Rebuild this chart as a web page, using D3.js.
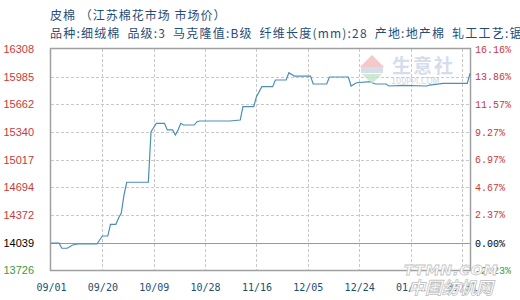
<!DOCTYPE html>
<html>
<head>
<meta charset="utf-8">
<script src="https://cdn.jsdelivr.net/npm/d3@7"></script>
<style>
  body { margin: 0; background: #fff; }
  svg { display: block; }
</style>
</head>
<body>
<svg id="chart" width="520" height="300"></svg>
<script>
const title = '皮棉 （江苏棉花市场 市场价）';
const subtitle = '品种:细绒棉 品级:3 马克隆值:B级 纤维长度(mm):28 产地:地产棉 轧工工艺:锯齿';

const dates = [
  '2009-09-01', '2009-09-04', '2009-09-05', '2009-09-07', '2009-09-09', '2009-09-11',
  '2009-09-18', '2009-09-20', '2009-09-22', '2009-09-23', '2009-09-25', '2009-09-26',
  '2009-09-27', '2009-09-28', '2009-09-29', '2009-10-07', '2009-10-08', '2009-10-10',
  '2009-10-13', '2009-10-14', '2009-10-16', '2009-10-17', '2009-10-18', '2009-10-19',
  '2009-10-20', '2009-10-24', '2009-10-25', '2009-10-26', '2009-11-06', '2009-11-10',
  '2009-11-11', '2009-11-15', '2009-11-16', '2009-11-18', '2009-11-22', '2009-11-23',
  '2009-11-27', '2009-11-28', '2009-11-30', '2009-12-06', '2009-12-07', '2009-12-12',
  '2009-12-13', '2009-12-20', '2009-12-21', '2009-12-23', '2009-12-28', '2009-12-30',
  '2010-01-03', '2010-01-04', '2010-01-09', '2010-01-18', '2010-01-19', '2010-01-24',
  '2010-02-02', '2010-02-03'
];
const prices = [
  14039, 14039, 13980, 13980, 14018, 14030,
  14030, 14123, 14123, 14260, 14260, 14334,
  14392, 14600, 14751, 14751, 15342, 15440,
  15440, 15362, 15362, 15303, 15362, 15440,
  15420, 15420, 15459, 15467, 15467, 15478,
  15634, 15634, 15751, 15868, 15868, 15946,
  15946, 16031, 15992, 15992, 15899, 15899,
  15981, 15981, 15876, 15914, 15926, 15899,
  15899, 15876, 15882, 15876, 15887, 15907,
  15907, 16024
];

const basePrice = 14039;
const priceTicks = [13726, 14039, 14372, 14694, 15017, 15340, 15662, 15985, 16308];
const pctTicks = ['-2.23%', '0.00%', '2.37%', '4.67%', '6.97%', '9.27%', '11.57%', '13.86%', '16.16%'];
const dateTicks = [
  '2009-09-01', '2009-09-20', '2009-10-09', '2009-10-28', '2009-11-16',
  '2009-12-05', '2009-12-24', '2010-01-12', '2010-01-31'
];
const dateStart = '2009-09-01';
const dateEnd = '2010-02-03';

const parse = d3.timeParse('%Y-%m-%d');
const L = 51, R = 470, T = 49, B = 270;
const svg = d3.select('#chart');

const x = d3.scaleTime().domain([parse(dateStart), parse(dateEnd)]).range([L, R]);
const y = d3.scaleLinear().domain([priceTicks[0], priceTicks[priceTicks.length - 1]]).range([B, T]);

const tickColor = (v) => (v > basePrice ? '#c83a3a' : v < basePrice ? '#3d9a3d' : '#000');

// ── header text ──────────────────────────────────────────────
svg.append('text')
  .attr('x', 50).attr('y', 20)
  .attr('font-family', '"Noto Sans CJK SC", sans-serif')
  .attr('font-size', '12px')
  .attr('letter-spacing', '1px')
  .attr('fill', '#1f4e79')
  .text(title);

svg.append('text')
  .attr('x', 50).attr('y', 38)
  .attr('font-family', '"Noto Sans CJK SC", sans-serif')
  .attr('font-size', '12px')
  .attr('letter-spacing', '1.2px')
  .attr('word-spacing', '3px')
  .attr('fill', '#1f4e79')
  .text(subtitle);

// ── grid ─────────────────────────────────────────────────────
const grid = svg.append('g');
priceTicks.slice(1, -1).forEach((v) => {
  grid.append('line')
    .attr('x1', L).attr('x2', R)
    .attr('y1', Math.round(y(v)) + 0.5).attr('y2', Math.round(y(v)) + 0.5)
    .attr('stroke', '#c8c8c8').attr('stroke-dasharray', '3,2');
});
dateTicks.slice(1).forEach((d) => {
  const px = Math.round(x(parse(d))) + 0.5;
  grid.append('line')
    .attr('x1', px).attr('x2', px)
    .attr('y1', T).attr('y2', B)
    .attr('stroke', '#c8c8c8').attr('stroke-dasharray', '3,2');
});

// base price line
svg.append('line')
  .attr('x1', L).attr('x2', R)
  .attr('y1', Math.round(y(basePrice)) + 0.5).attr('y2', Math.round(y(basePrice)) + 0.5)
  .attr('stroke', '#999');

// ── frame ────────────────────────────────────────────────────
svg.append('rect')
  .attr('x', L - 0.5).attr('y', T - 0.5)
  .attr('width', R - L + 1).attr('height', B - T + 1)
  .attr('fill', 'none').attr('stroke', '#a0a0a0').attr('stroke-width', 1.5);

// ── axes ─────────────────────────────────────────────────────
const left = svg.append('g')
  .attr('transform', `translate(${L},0)`)
  .call(d3.axisLeft(y).tickValues(priceTicks).tickSize(0).tickPadding(17).tickFormat(d3.format('d')));
left.select('.domain').remove();
left.selectAll('text')
  .attr('font-family', '"Liberation Sans", Arial, sans-serif')
  .attr('font-size', '11px')
  .attr('fill', (d) => tickColor(d));

const right = svg.append('g')
  .attr('transform', `translate(${R},0)`)
  .call(d3.axisRight(y).tickValues(priceTicks).tickSize(0).tickPadding(5)
    .tickFormat((d, i) => pctTicks[i]));
right.select('.domain').remove();
right.selectAll('text')
  .attr('font-family', '"Liberation Mono", monospace')
  .attr('font-size', '10px')
  .attr('fill', (d) => tickColor(d));

const bottom = svg.append('g')
  .attr('transform', `translate(0,${B})`)
  .call(d3.axisBottom(x).tickValues(dateTicks.map(parse)).tickSize(0).tickPadding(14)
    .tickFormat(d3.timeFormat('%m/%d')));
bottom.select('.domain').remove();
bottom.selectAll('text')
  .attr('font-family', '"DejaVu Sans Mono", monospace')
  .attr('font-size', '10px')
  .attr('fill', '#1b4f72');

// ── price line ───────────────────────────────────────────────
const series = dates.map((d, i) => ({ date: parse(d), val: prices[i] }));
svg.append('path')
  .datum(series)
  .attr('fill', 'none')
  .attr('stroke', '#4b8fb6')
  .attr('stroke-width', 1.2)
  .attr('d', d3.line().x((d) => x(d.date)).y((d) => y(d.val)));

// ── watermarks ───────────────────────────────────────────────
const wm = svg.append('g').attr('opacity', 0.75);
wm.append('path').attr('d', 'M372,55 L384,67 L360,67 Z').attr('fill', '#f2b8b8');
wm.append('rect').attr('x', 361).attr('y', 67).attr('width', 22).attr('height', 6).attr('fill', '#c9d3e6');
wm.append('path').attr('d', 'M362,74 L382,74 L372,84 Z').attr('fill', '#bfe3c6');
wm.append('text')
  .attr('x', 392).attr('y', 73)
  .attr('font-family', '"Noto Sans CJK SC", sans-serif')
  .attr('font-size', '19px').attr('font-weight', 'bold')
  .attr('letter-spacing', '2px')
  .attr('fill', '#c7d2e6')
  .text('生意社');
wm.append('text')
  .attr('x', 391).attr('y', 84)
  .attr('font-family', '"DejaVu Sans", sans-serif')
  .attr('font-size', '8px')
  .attr('fill', '#c3cad6')
  .text('100PPI.COM');

const wm2 = svg.append('g')
  .attr('font-family', '"DejaVu Sans", sans-serif')
  .attr('font-weight', 'bold')
  .attr('font-style', 'italic')
  .attr('fill', '#fff')
  .attr('stroke', '#c4c4c4')
  .attr('stroke-width', 0.8);
wm2.append('text').attr('x', 404).attr('y', 275).attr('font-size', '14px').attr('letter-spacing', '1px').text('TTMN.COM');
wm2.append('text').attr('x', 408).attr('y', 294)
  .attr('font-family', '"Noto Sans CJK SC", sans-serif')
  .attr('font-size', '17px').text('中国纺机网');
</script>
</body>
</html>
